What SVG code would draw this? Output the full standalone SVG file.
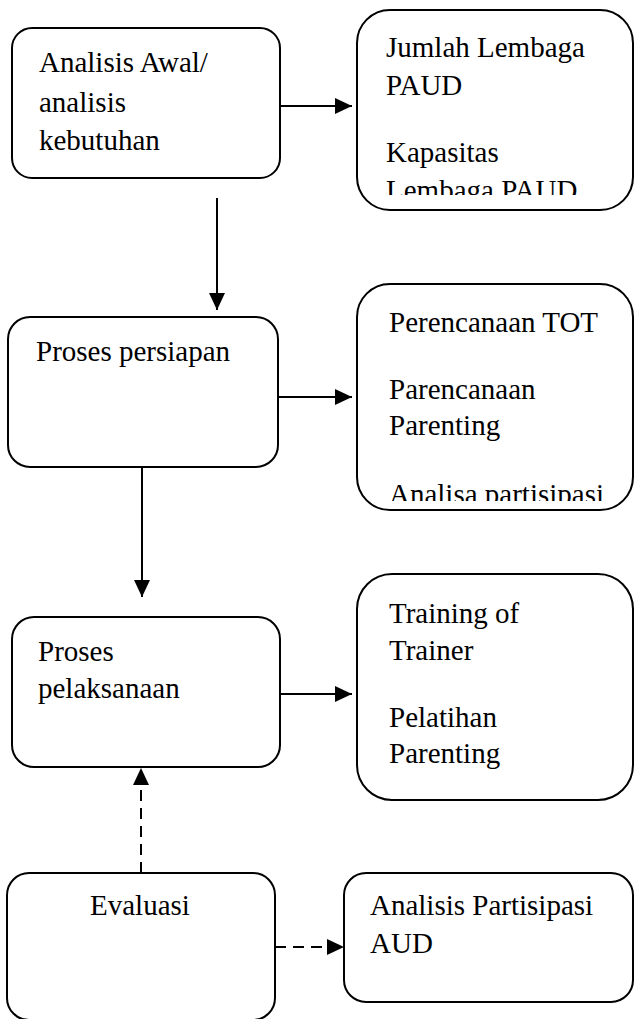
<svg xmlns="http://www.w3.org/2000/svg" width="635" height="1019" viewBox="0 0 635 1019">
<style>
.box{fill:#fff;stroke:#000;stroke-width:2}
text{font-family:'Liberation Serif','Times New Roman',serif;font-size:29px;fill:#000}
.c{stroke:#000;stroke-width:2;fill:none}
.d{stroke-dasharray:11 7}
</style>
<defs>
<marker id="ah" markerUnits="userSpaceOnUse" markerWidth="17" markerHeight="16" refX="17" refY="8" orient="auto">
<path d="M0,0 L17,8 L0,16 Z" fill="#000"/>
</marker>
<clipPath id="clip2"><rect x="357" y="10" width="276" height="185"/></clipPath>
<clipPath id="clip4"><rect x="357" y="284" width="276" height="217"/></clipPath>
</defs>
<rect width="635" height="1019" fill="#fff"/>
<g id="connectors">
<line class="c" x1="280" y1="106" x2="352" y2="106" marker-end="url(#ah)"/>
<line class="c" x1="217" y1="198" x2="217" y2="310" marker-end="url(#ah)"/>
<line class="c" x1="278" y1="397" x2="352" y2="397" marker-end="url(#ah)"/>
<line class="c" x1="142" y1="467" x2="142" y2="597" marker-end="url(#ah)"/>
<line class="c" x1="280" y1="694" x2="352" y2="694" marker-end="url(#ah)"/>
<line class="c d" x1="141" y1="873" x2="141" y2="768" marker-end="url(#ah)"/>
<line class="c d" x1="275" y1="947" x2="344" y2="947" marker-end="url(#ah)"/>
</g>
<g id="n1">
<rect class="box" x="12" y="28" width="268" height="150" rx="20"/>
<text x="39" y="72">Analisis Awal/</text>
<text x="39" y="112">analisis</text>
<text x="39" y="150">kebutuhan</text>
</g>
<g id="n2">
<rect class="box" x="357" y="10" width="276" height="200" rx="33"/>
<g clip-path="url(#clip2)">
<text x="386" y="57">Jumlah Lembaga</text>
<text x="386" y="95">PAUD</text>
<text x="386" y="162">Kapasitas</text>
<text x="386" y="200">Lembaga PAUD</text>
</g>
</g>
<g id="n3">
<rect class="box" x="8" y="317" width="270" height="150" rx="22"/>
<text x="36" y="361">Proses persiapan</text>
</g>
<g id="n4">
<rect class="box" x="357" y="284" width="276" height="226" rx="33"/>
<g clip-path="url(#clip4)">
<text x="389" y="332">Perencanaan TOT</text>
<text x="389" y="399">Parencanaan</text>
<text x="389" y="435">Parenting</text>
<text x="389" y="504">Analisa partisipasi</text>
</g>
</g>
<g id="n5">
<rect class="box" x="12" y="617" width="268" height="150" rx="22"/>
<text x="38" y="661">Proses</text>
<text x="38" y="698">pelaksanaan</text>
</g>
<g id="n6">
<rect class="box" x="357" y="574" width="276" height="226" rx="35"/>
<text x="389" y="623">Training of</text>
<text x="389" y="660">Trainer</text>
<text x="389" y="727">Pelatihan</text>
<text x="389" y="763">Parenting</text>
</g>
<g id="n7">
<rect class="box" x="7" y="873" width="268" height="147" rx="22"/>
<text x="90" y="915">Evaluasi</text>
</g>
<g id="n8">
<rect class="box" x="344" y="873" width="289" height="129" rx="22"/>
<text x="370" y="915">Analisis Partisipasi</text>
<text x="370" y="953">AUD</text>
</g>
</svg>
